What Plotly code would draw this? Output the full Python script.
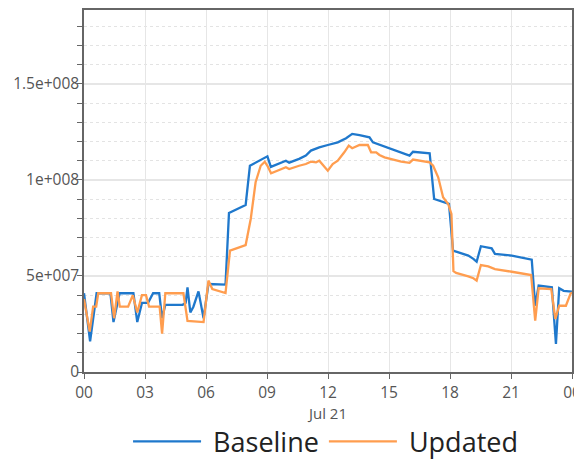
import pandas as pd
import plotly.graph_objects as go

# Hours since midnight (Jul 21) and values in millions
baseline_hours = [0.00, 0.30, 0.62, 1.30, 1.45, 1.75, 2.43, 2.62, 2.85, 3.15, 3.40, 3.70, 3.84, 4.00,
                  4.85, 5.00, 5.09, 5.23, 5.38, 5.63, 5.88, 6.12, 6.96, 7.13, 7.95, 8.16, 9.02, 9.19,
                  9.93, 10.09, 10.58, 10.91, 11.16, 11.57, 11.99, 12.48, 12.89, 13.19, 13.55, 14.04,
                  14.21, 16.01, 16.18, 17.00, 17.22, 17.95, 18.15, 18.90, 19.15, 19.31, 19.52, 20.05,
                  20.21, 21.04, 22.02, 22.19, 22.36, 23.01, 23.21, 23.37, 23.59, 24.00]
baseline_values = [41, 16, 41, 41, 26, 41, 41, 26, 36, 36, 41, 41, 28, 35,
                   35, 36, 44, 31, 34, 42, 28, 45.8, 45.5, 82.8, 87, 107.4, 112.3, 106.8,
                   110, 109, 111, 112.7, 115.3, 117, 118.2, 119.6, 121.7, 124, 123.4, 122.2,
                   119.6, 112.7, 114.7, 113.9, 90.1, 87.5, 63.2, 60.6, 58.9, 57.4, 65.5, 64.4,
                   61.5, 60.6, 58.5, 34.5, 45, 44.1, 14.6, 43.6, 42.3, 41.8]

updated_hours = [0.00, 0.28, 0.45, 0.60, 0.70, 1.33, 1.48, 1.65, 1.76, 2.17, 2.40, 2.62, 2.85, 3.05,
                 3.20, 3.72, 3.84, 4.00, 4.89, 5.09, 5.88, 6.12, 6.31, 6.96, 7.18, 7.95, 8.20, 8.44,
                 8.69, 8.89, 9.02, 9.20, 9.93, 10.09, 10.58, 10.91, 11.16, 11.41, 11.57, 11.99, 12.23,
                 12.48, 12.80, 13.02, 13.19, 13.55, 13.96, 14.12, 14.37, 14.53, 14.78, 15.60, 16.01,
                 16.18, 17.00, 17.17, 17.42, 17.66, 17.91, 18.07, 18.17, 18.30, 18.90, 19.15, 19.31,
                 19.52, 19.88, 20.21, 21.04, 21.99, 22.19, 22.36, 22.98, 23.18, 23.37, 23.70, 23.92,
                 24.00]
updated_values = [38, 21, 34, 34, 41, 41, 28, 42, 34, 34, 40, 31, 40, 40,
                  34, 34, 20, 41, 41, 26.6, 26, 47.6, 43.2, 41.1, 63.2, 66.1, 79.7, 98.8,
                  107.4, 109.5, 107.4, 103.5, 106.6, 105.7, 107.4, 108.3, 109.5, 109.2, 110, 104.8, 108.3,
                  110, 114.4, 117.9, 116.5, 118.2, 118.2, 114.4, 114.4, 113, 111.8, 109.5, 108.9,
                  110.6, 109.2, 107.4, 101.4, 91, 87.5, 82.3, 52.5, 51.6, 49.8, 48.8, 47.6,
                  55.7, 55, 53.6, 52.2, 50.5, 26.7, 43.6, 43.2, 27.6, 34.5, 34.5, 40.6,
                  41.5]

series_names = ["Baseline", "Updated"]
y_tickvals = [0, 5e7, 1e8, 1.5e8]
y_ticktext = ["0", "5e+007", "1e+008", "1.5e+008"]

base = pd.Timestamp("2021-07-21 00:00")
def to_time(hours):
    return [base + pd.Timedelta(hours=h) for h in hours]

fig = go.Figure()
fig.add_trace(go.Scatter(x=to_time(baseline_hours), y=[v * 1e6 for v in baseline_values],
                         mode="lines", name="\u00a0" + series_names[0],
                         line=dict(color="#1f78cc", width=2.3)))
fig.add_trace(go.Scatter(x=to_time(updated_hours), y=[v * 1e6 for v in updated_values],
                         mode="lines", name="\u00a0" + series_names[1],
                         line=dict(color="#ff9d4f", width=2.3)))

# The page body adds an 8px margin; the figure is offset so the plot lands where the reference has it.
fig.update_layout(
    width=574, height=470,
    margin=dict(l=76, r=10, t=2, b=106, autoexpand=False),
    paper_bgcolor="white", plot_bgcolor="white",
    font=dict(family="Open Sans", size=15.5, color="#555555"),
    showlegend=True,
    legend=dict(orientation="h", x=0.495, xanchor="center", y=-0.193, yanchor="middle",
                font=dict(size=27, color="#222222"), itemwidth=68,
                bgcolor="rgba(0,0,0,0)"),
    xaxis=dict(
        type="date",
        range=[base, base + pd.Timedelta(hours=24)],
        dtick=3 * 3600 * 1000, tick0=base, tickformat="%H",
        showgrid=True, gridcolor="#e6e6e6", gridwidth=1,
        ticks="outside", ticklen=5, tickcolor="#666666",
        showline=True, linecolor="#666666", linewidth=1.5, mirror=True,
        ticklabelstandoff=1,
        title=dict(text="Jul 21", font=dict(size=15, color="#555555"), standoff=0),
        zeroline=False, automargin=False,
    ),
    yaxis=dict(
        range=[0, 1.885e8],
        tickmode="array", tickvals=y_tickvals, ticktext=y_ticktext,
        showgrid=True, gridcolor="#e6e6e6", gridwidth=1.5,
        ticks="outside", ticklen=5, tickcolor="#666666",
        showline=True, linecolor="#666666", linewidth=1.5, mirror=True,
        ticklabelstandoff=-5,
        zeroline=False, automargin=False,
        minor=dict(tickmode="linear", tick0=0, dtick=1e7, showgrid=True,
                   gridcolor="#e3e3e3", griddash="dot", gridwidth=1,
                   ticks="outside", ticklen=5, tickcolor="#666666"),
    ),
)

fig.write_html("out.html")
